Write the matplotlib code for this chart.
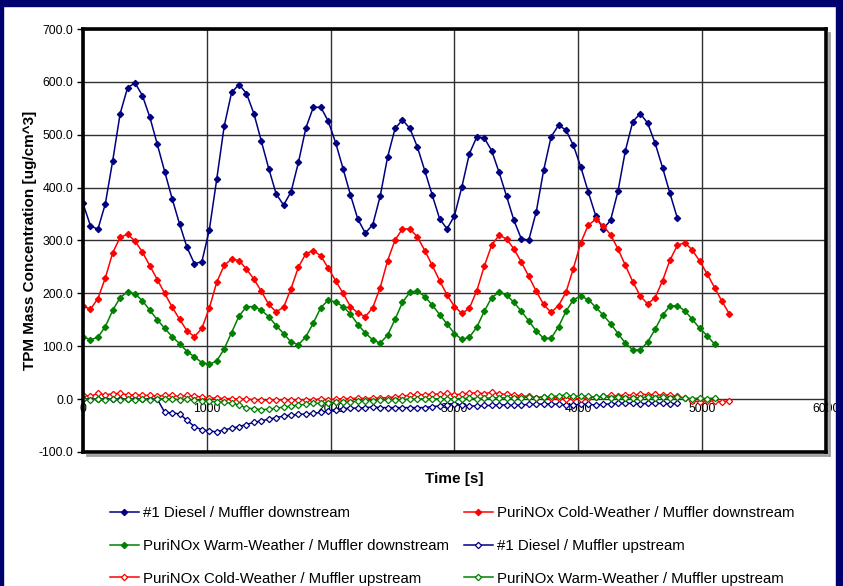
import numpy as np
import matplotlib
matplotlib.use("Agg")
import matplotlib.pyplot as plt
from matplotlib.patches import Rectangle
from matplotlib.lines import Line2D

plt.rcParams['font.family'] = ['Liberation Sans', 'DejaVu Sans']

STEP = 60  # sampling interval [s]

diesel_down = [370, 328, 321, 369, 451, 540, 589, 598, 574, 533,
               482, 430, 379, 331, 287, 256, 260, 320, 416, 516,
               580, 595, 578, 540, 488, 436, 388, 367, 392, 448,
               513, 552, 552, 526, 485, 436, 386, 340, 314, 330,
               384, 458, 512, 528, 512, 477, 432, 386, 341, 322,
               347, 402, 464, 496, 494, 470, 429, 384, 338, 303,
               301, 354, 433, 496, 518, 509, 480, 439, 392, 347,
               322, 338, 393, 470, 525, 540, 522, 484, 438, 389,
               342]

cold_down = [176, 170, 190, 229, 277, 306, 312, 299, 278, 252,
             226, 200, 174, 151, 129, 118, 134, 172, 221, 253,
             265, 262, 246, 227, 204, 179, 165, 174, 209, 250,
             275, 281, 271, 248, 224, 200, 175, 163, 156, 173,
             211, 262, 301, 322, 322, 307, 281, 253, 224, 197,
             175, 162, 172, 205, 251, 291, 310, 303, 284, 259,
             232, 204, 179, 164, 177, 202, 247, 296, 329, 340,
             328, 311, 284, 253, 222, 195, 180, 192, 224, 263,
             291, 296, 282, 261, 237, 211, 185, 161]

warm_down = [118, 112, 117, 137, 168, 192, 203, 199, 186, 168,
             150, 134, 118, 105, 90, 80, 69, 66, 72, 95,
             126, 157, 175, 175, 168, 156, 139, 124, 108, 103,
             118, 144, 173, 187, 184, 175, 161, 141, 125, 112,
             106, 121, 151, 183, 202, 205, 194, 178, 160, 142,
             124, 113, 117, 136, 166, 192, 202, 197, 183, 166,
             148, 129, 115, 115, 137, 166, 188, 195, 188, 174,
             159, 143, 124, 106, 93, 93, 108, 132, 159, 176,
             177, 167, 151, 134, 120, 104]

diesel_up = [0, 0, 0, 0, 0, 0, 0, 0, 0, 0,
             0, -25, -26, -28, -40, -52, -58, -60, -62, -58,
             -55, -52, -48, -44, -41, -38, -35, -32, -30, -29,
             -28, -27, -25, -23, -20, -18, -17, -17, -16, -15,
             -16, -16, -16, -16, -16, -16, -16, -14, -13, -11,
             -10, -12, -13, -13, -12, -12, -11, -11, -12, -11,
             -10, -10, -9, -9, -10, -11, -11, -10, -10, -11,
             -10, -9, -8, -8, -8, -9, -8, -8, -8, -9,
             -8]

cold_up = [8, 5, 11, 8, 10, 11, 8, 8, 7, 7,
           6, 7, 7, 5, 7, 6, 4, 2, 2, 1,
           1, 0, 0, -1, -2, -2, -1, -2, -1, -2,
           -1, -1, 0, -1, 0, 1, 1, 2, 1, 2,
           2, 3, 4, 6, 7, 9, 8, 10, 9, 11,
           8, 10, 11, 12, 10, 13, 10, 9, 8, 6,
           5, 3, 4, 2, 3, 1, 2, 0, 3, 4,
           5, 7, 6, 8, 7, 10, 8, 9, 7, 8,
           5, 2, -3, -5, -3, -4, -5, -3]

warm_up = [0, -1, 0, -1, 0, -1, 0, -1, 0, -1,
           0, 1, 0, -1, 0, -2, -3, -4, -5, -6,
           -8, -11, -17, -18, -20, -19, -17, -15, -13, -11,
           -10, -8, -8, -7, -6, -6, -5, -4, -3, -3,
           -2, -2, -1, -1, 0, 0, 1, 0, 1, 0,
           1, 1, 2, 1, 2, 2, 3, 2, 2, 3,
           4, 3, 4, 5, 6, 8, 5, 6, 5, 4,
           5, 3, 4, 3, 2, 3, 4, 3, 4, 3,
           4, 2, 1, 2, 1, 2]

labels = ["#1 Diesel / Muffler downstream",
          "PuriNOx Cold-Weather / Muffler downstream",
          "PuriNOx Warm-Weather / Muffler downstream",
          "#1 Diesel / Muffler upstream",
          "PuriNOx Cold-Weather / Muffler upstream",
          "PuriNOx Warm-Weather / Muffler upstream"]

NAVY = '#000080'
RED = '#FF0000'
GREEN = '#008000'

series = [(diesel_down, NAVY, True), (cold_down, RED, True),
          (warm_down, GREEN, True), (diesel_up, NAVY, False),
          (cold_up, RED, False), (warm_up, GREEN, False)]

W, H = 843, 586
fig = plt.figure(figsize=(W / 100, H / 100), dpi=100)

# navy frame around the chart area
frame_col = '#00006E'
fig.patches.append(Rectangle((0, 1 - 6 / H), 1, 6 / H, transform=fig.transFigure,
                             color=frame_col, zorder=0))
fig.patches.append(Rectangle((0, 0), 3 / W, 1, transform=fig.transFigure,
                             color=frame_col, zorder=0))
fig.patches.append(Rectangle((1 - 7 / W, 0), 7 / W, 1, transform=fig.transFigure,
                             color=frame_col, zorder=0))

ax = fig.add_axes([83 / W, 1 - 452 / H, (826 - 83) / W, (452 - 29) / H])

handles = []
for vals, col, filled in series:
    t = np.arange(len(vals)) * STEP
    h, = ax.plot(t, vals, color=col, lw=1.1, marker='D', ms=3.2,
                 mfc=col if filled else 'white', mec=col, mew=0.9,
                 zorder=3)
    handles.append(h)

ax.set_xlim(0, 6000)
ax.set_ylim(-100, 700)
ax.set_yticks(np.arange(-100, 701, 100))
ax.set_yticklabels([f"{v:.1f}" for v in np.arange(-100, 701, 100)], fontsize=8.8)
ax.set_xticks(np.arange(0, 6001, 1000))
ax.tick_params(axis='x', length=0, labelbottom=False)
ax.tick_params(axis='y', length=4, width=1, direction='out', pad=3)
ax.grid(True, color='#303030', lw=1.0, zorder=1)
ax.set_axisbelow(True)

# x tick labels sit just below the zero line
for xv in np.arange(0, 6001, 1000):
    ax.annotate(f"{xv:d}", (xv, 0), xytext=(0, -3), textcoords='offset points',
                ha='center', va='top', fontsize=8.8, zorder=2)

for s in ax.spines.values():
    s.set_linewidth(2.6)
    s.set_color('black')
    s.set_zorder(5)

# soft shadow along right and bottom edges of the plot frame
sh = dict(color='#A0A0A0', lw=2, transform=fig.transFigure, zorder=1)
fig.add_artist(Line2D([829 / W, 829 / W], [1 - 455 / H, 1 - 33 / H], **sh))
fig.add_artist(Line2D([87 / W, 829 / W], [1 - 455 / H, 1 - 455 / H], **sh))

ax.set_ylabel("TPM Mass Concentration [ug/cm^3]", fontsize=11, fontweight='bold',
              labelpad=1)
ax.set_xlabel("Time [s]", fontsize=11, fontweight='bold')
ax.xaxis.set_label_coords(0.5, -0.047)

order = [0, 2, 4, 1, 3, 5]
fig.legend([handles[i] for i in order], [labels[i] for i in order],
           ncol=2, loc='upper left', bbox_to_anchor=(104 / W, 1 - 500 / H),
           frameon=False, fontsize=10.8, handlelength=1.9, handletextpad=0.3,
           columnspacing=1.0, labelspacing=1.25, borderaxespad=0)

fig.savefig("out.png", dpi=100, facecolor='white')
